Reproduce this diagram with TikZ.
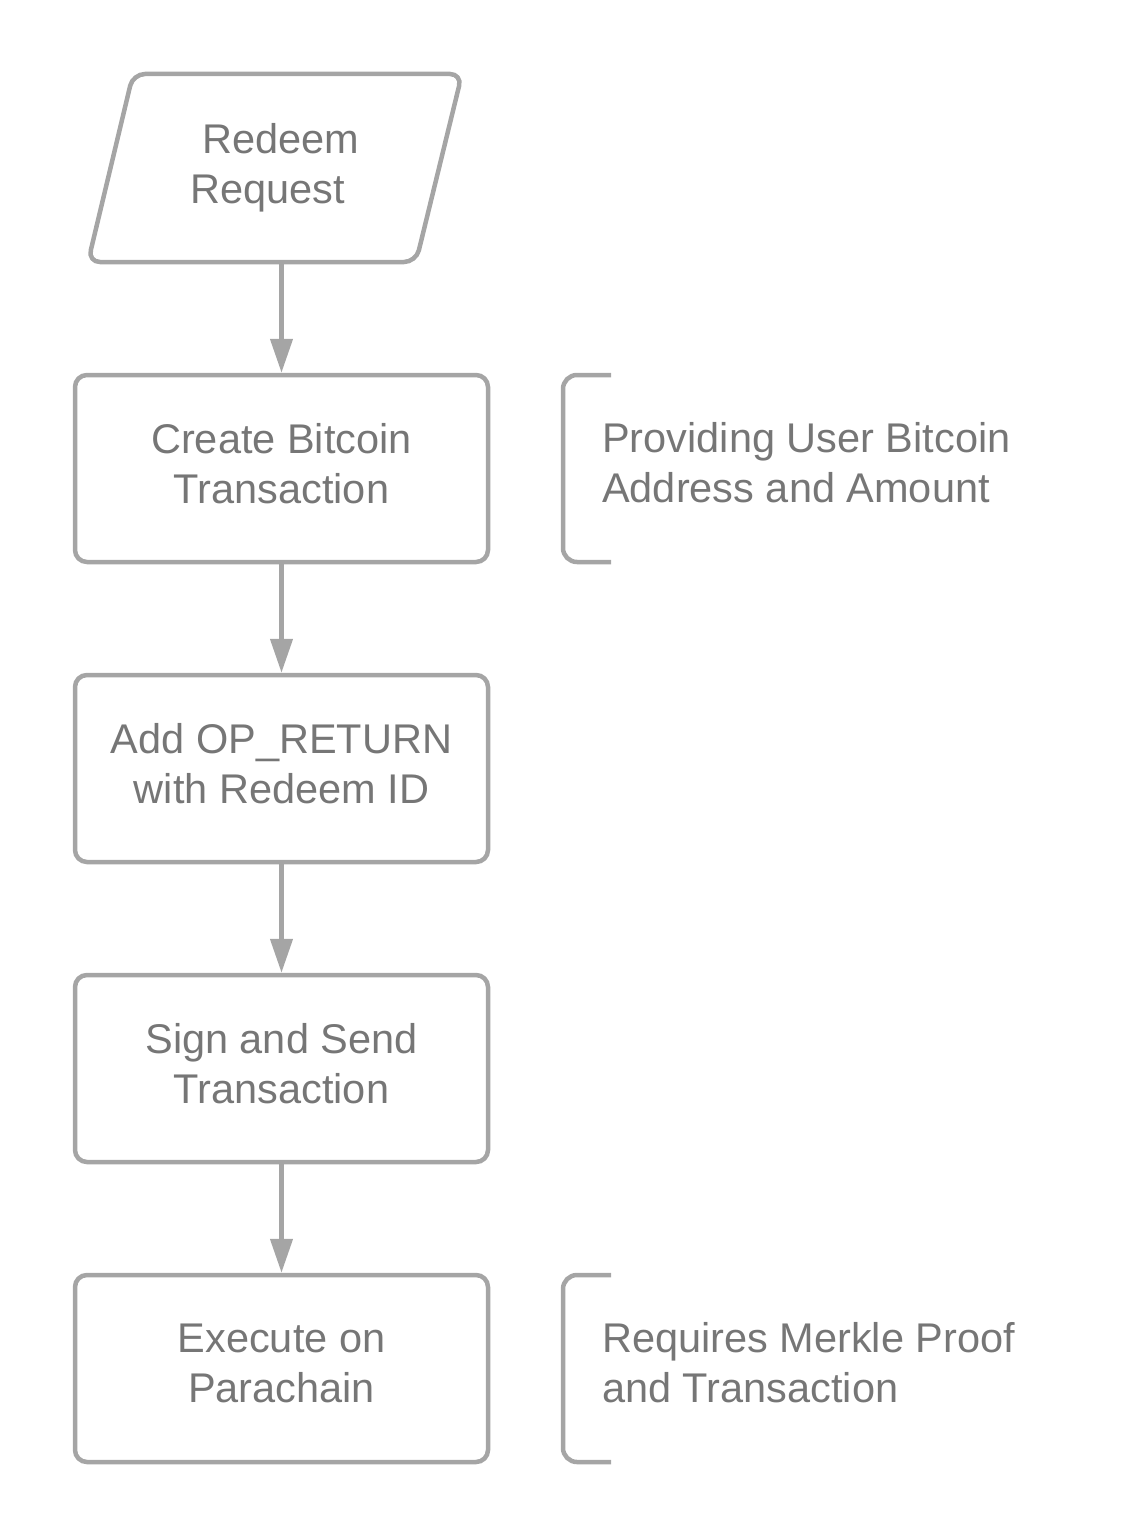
\documentclass[tikz,border=0pt]{standalone}
\usepackage{fontspec}
\setmainfont{Liberation Sans}
\usetikzlibrary{arrows.meta}
\definecolor{linegray}{HTML}{A5A5A5}
\definecolor{textgray}{HTML}{767676}
\begin{document}
\begin{tikzpicture}[x=1pt,y=-1pt,
  every node/.style={text=textgray,font=\fontsize{41.5}{50}\selectfont},
  stepbox/.style={draw=linegray,line width=4.5pt,rounded corners=12pt,
    minimum width=413pt,minimum height=187pt,align=center,inner sep=0pt,
    text depth=10pt},
  flow/.style={draw=linegray,line width=4.5pt,-{Triangle[width=22pt,length=34pt]}},
  bracket/.style={draw=linegray,line width=4.5pt,rounded corners=14pt},
  note/.style={anchor=west,align=left,inner sep=0pt}]
\useasboundingbox (0,0) rectangle (1125,1538);
% parallelogram
\draw[draw=linegray,line width=4.5pt,rounded corners=12pt]
  (133,74) -- (462,74) -- (416,262) -- (88,262) -- cycle;
\node[align=center,minimum height=188pt,inner sep=0pt] (rr) at (274.5,168)
  {\hspace*{13pt}Redeem\\Request\hspace*{13pt}};
% boxes
\node[stepbox] (b1) at (281.5,468.5) {Create Bitcoin\\Transaction};
\node[stepbox] (b2) at (281.5,768.5) {Add OP\_RETURN\\with Redeem ID};
\node[stepbox] (b3) at (281.5,1068.5) {Sign and Send\\Transaction};
\node[stepbox] (b4) at (281.5,1368.5) {Execute on\\Parachain};
% arrows
\draw[flow] (rr.south -| b1.north) -- (b1.north);
\draw[flow] (b1) -- (b2);
\draw[flow] (b2) -- (b3);
\draw[flow] (b3) -- (b4);
% brackets and notes
\draw[bracket] (611,375) -- (563,375) -- (563,562) -- (611,562);
\node[note] (n1) at (602,463) {Providing User Bitcoin\\Address and Amount};
\draw[bracket] (611,1275) -- (563,1275) -- (563,1462) -- (611,1462);
\node[note] (n2) at (602,1363) {Requires Merkle Proof\\and Transaction};
\end{tikzpicture}
\end{document}
